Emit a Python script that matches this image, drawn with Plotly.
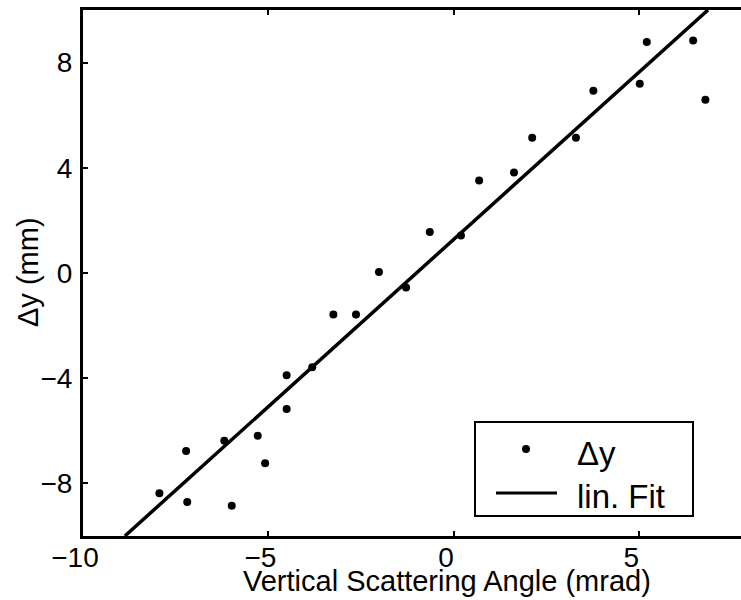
import plotly.graph_objects as go

# Data
angle_mrad = [-7.94, -7.22, -7.19, -6.19, -5.99, -5.29, -5.09, -4.51, -4.51,
              -3.82, -3.25, -2.64, -2.02, -1.29, -0.65, 0.19, 0.68, 1.62,
              2.11, 3.29, 3.76, 5.01, 5.20, 6.45, 6.78]
dy_mm = [-8.37, -6.77, -8.71, -6.38, -8.85, -6.19, -7.23, -3.89, -5.17,
         -3.58, -1.58, -1.58, 0.04, -0.55, 1.56, 1.43, 3.52, 3.82,
         5.14, 5.14, 6.93, 7.20, 8.78, 8.84, 6.59]
fit_x = [-8.87, 6.85]
fit_y = [-10.0, 10.0]

x_ticks = [-10, -5, 0, 5]
y_ticks = [-8, -4, 0, 4, 8]

W, H = 741, 600
L, R, T, B = 83, 0, 10, 64
PW, PH = W - L - R, H - T - B
FONT = "Arial, Liberation Sans, Helvetica, sans-serif"


def px_x(px):
    return (px - L) / PW


def px_y(py):
    return (H - B - py) / PH


fig = go.Figure()
fig.add_trace(go.Scatter(x=angle_mrad, y=dy_mm, mode="markers", name="Δy",
                         marker=dict(color="black", size=8),
                         showlegend=False))
fig.add_trace(go.Scatter(x=fit_x, y=fit_y, mode="lines", name="lin. Fit",
                         line=dict(color="black", width=3.5),
                         showlegend=False))

axis_common = dict(showgrid=False, zeroline=False, showline=True,
                   linecolor="black", linewidth=3, ticks="inside",
                   ticklen=5, tickwidth=2, tickcolor="black",
                   tickfont=dict(family=FONT, size=28, color="black"))

fig.update_layout(
    width=W, height=H,
    margin=dict(l=L, r=R, t=T, b=B, autoexpand=False),
    paper_bgcolor="white", plot_bgcolor="white",
    xaxis=dict(range=[-10, 7.74], tickvals=x_ticks, mirror="ticks",
               ticklabelshift=-8, ticklabelstandoff=-6, **axis_common),
    yaxis=dict(range=[-10, 10], tickvals=y_ticks, mirror=False,
               ticklabelstandoff=2, **axis_common),
    showlegend=False,
)

# Axis titles
fig.add_annotation(text="Vertical Scattering Angle (mrad)", xref="paper", yref="paper",
                   x=px_x(447), y=px_y(581), xanchor="center", yanchor="middle",
                   showarrow=False, font=dict(family=FONT, size=29, color="black"))
fig.add_annotation(text="Δy (mm)", xref="paper", yref="paper",
                   x=px_x(28), y=px_y(272), xanchor="center", yanchor="middle",
                   textangle=-90, showarrow=False,
                   font=dict(family=FONT, size=29, color="black"))

# Legend (drawn as a box with glyphs)
fig.add_shape(type="rect", xref="paper", yref="paper",
              x0=px_x(475), x1=px_x(693), y0=px_y(516), y1=px_y(422),
              line=dict(color="black", width=2), fillcolor="white", layer="above")
fig.add_shape(type="circle", xref="paper", yref="paper",
              x0=px_x(522), x1=px_x(530), y0=px_y(453), y1=px_y(445),
              line=dict(color="black", width=0), fillcolor="black", layer="above")
fig.add_shape(type="line", xref="paper", yref="paper",
              x0=px_x(496), x1=px_x(557), y0=px_y(493), y1=px_y(493),
              line=dict(color="black", width=3), layer="above")
fig.add_annotation(text="Δy", xref="paper", yref="paper",
                   x=px_x(575), y=px_y(453), xanchor="left", yanchor="middle",
                   showarrow=False, font=dict(family=FONT, size=33, color="black"))
fig.add_annotation(text="lin. Fit", xref="paper", yref="paper",
                   x=px_x(575), y=px_y(496), xanchor="left", yanchor="middle",
                   showarrow=False, font=dict(family=FONT, size=33, color="black"))

fig.write_html("out.html")
